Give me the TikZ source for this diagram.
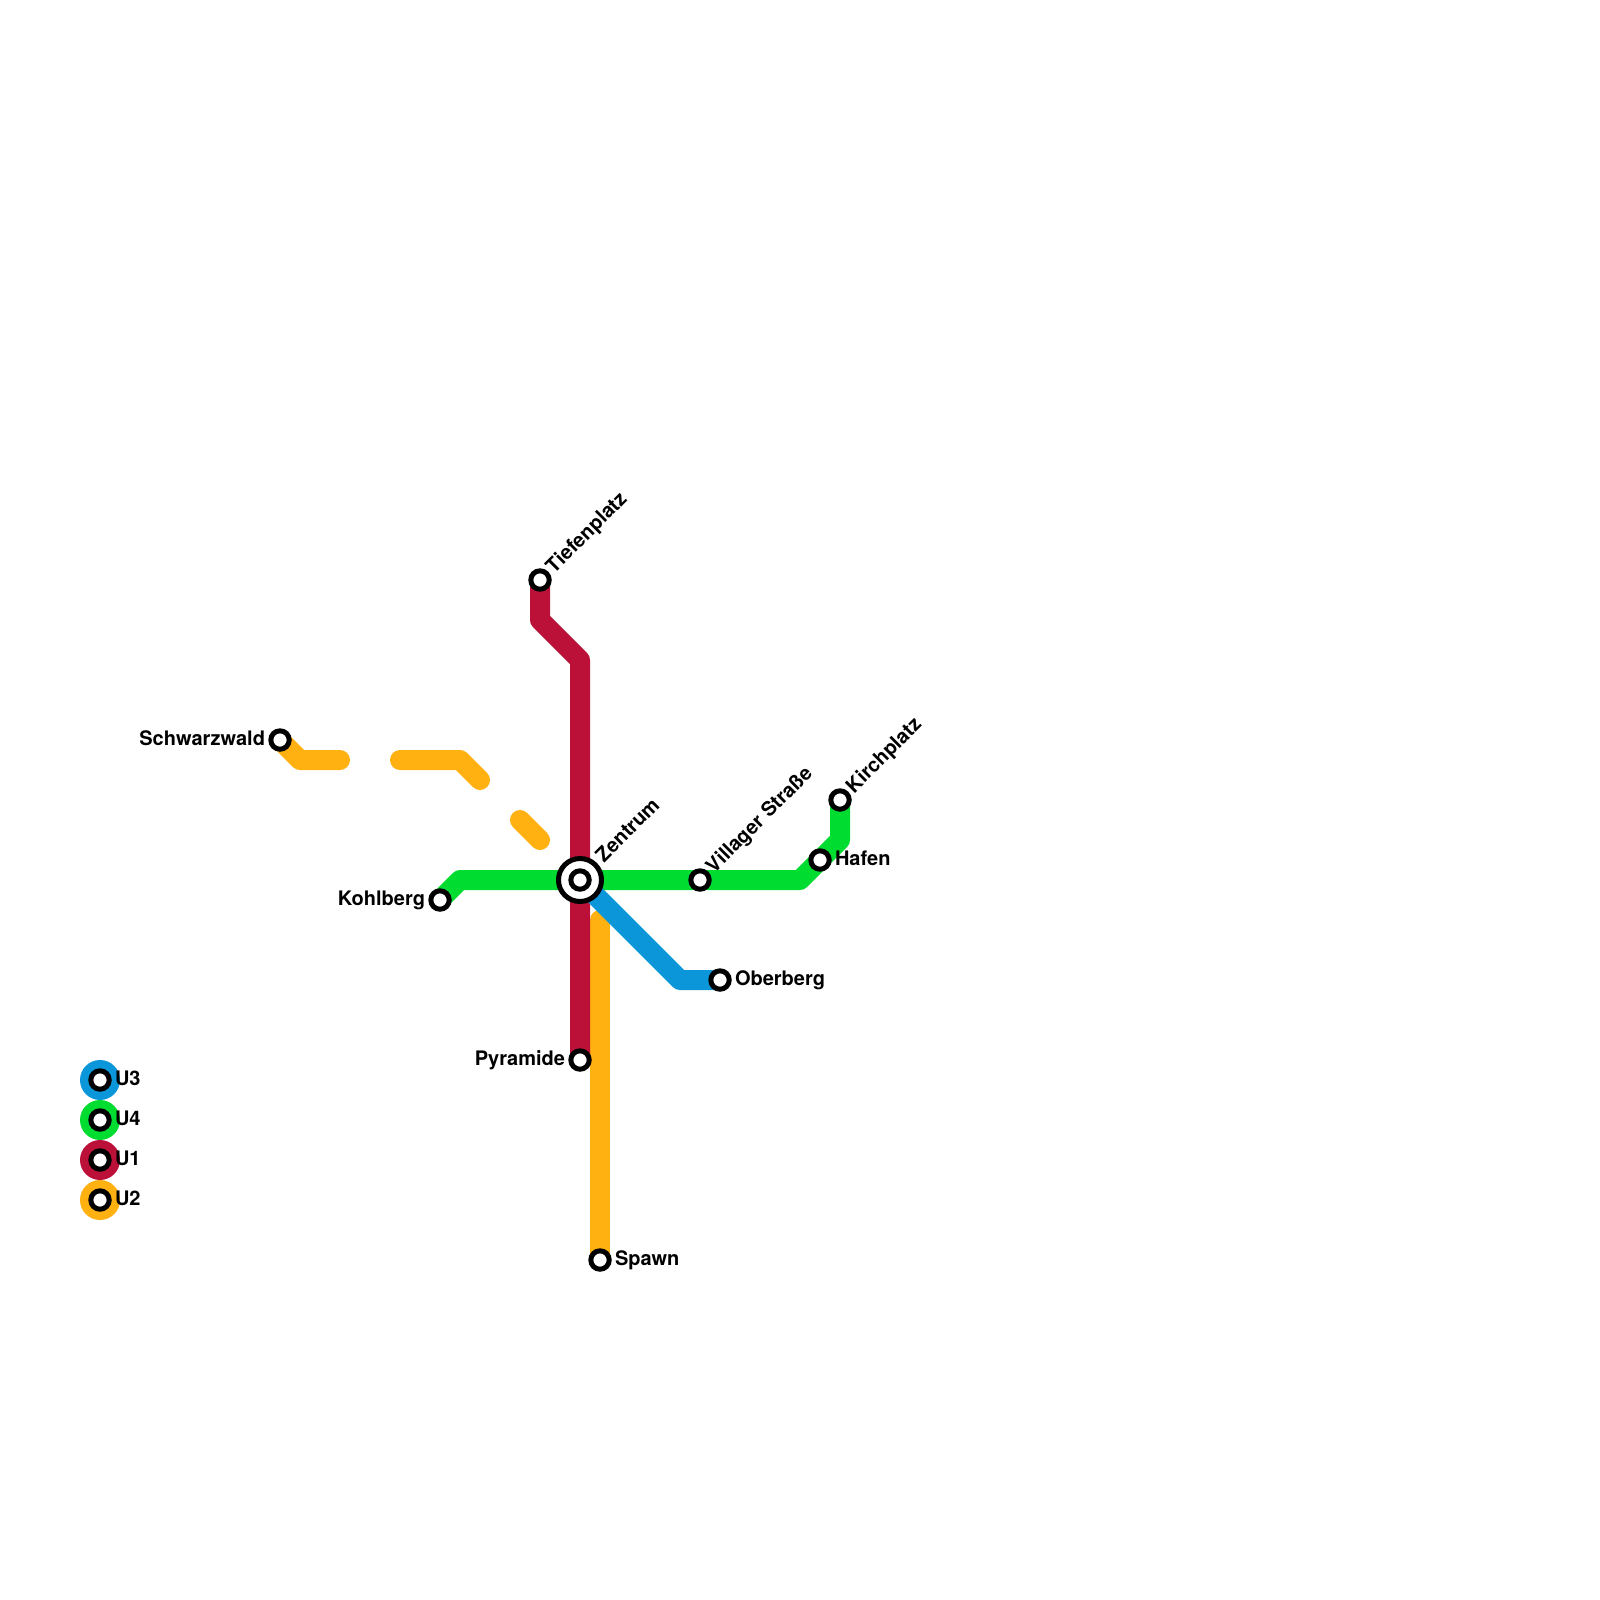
\documentclass[tikz,border=0pt]{standalone}
\usepackage{fontspec}
\setmainfont{TeX Gyre Heros}
\definecolor{cblue}{HTML}{0A96D8}
\definecolor{cgreen}{HTML}{00DD30}
\definecolor{cred}{HTML}{BB1139}
\definecolor{corange}{HTML}{FFB111}
\tikzset{
  metro/.style={line width=20pt,line join=round,line cap=round},
  stn/.style={circle,draw=black,fill=white,line width=5pt,minimum size=18.4pt,inner sep=0pt,outer sep=0pt},
  hubring/.style={circle,draw=black,fill=white,line width=5pt,minimum size=43pt,inner sep=0pt,outer sep=0pt},
  keydot/.style={circle,inner sep=0pt,outer sep=0pt,minimum size=40pt},
  lbl/.style={font=\bfseries\fontsize{20}{24}\selectfont,text=black,inner sep=0pt,outer sep=0pt,text height=14.5pt,text depth=0pt},
  lblR/.style={lbl,anchor=west},
  lblL/.style={lbl,anchor=east},
  lblD/.style={lbl,anchor=west,rotate=45}
}
\begin{document}
\begin{tikzpicture}[x=1pt,y=-1pt]
\useasboundingbox (0,0) rectangle (1600,1600);
\fill[white] (0,0) rectangle (1600,1600);
% stops
\coordinate (tief) at (540,580);
\coordinate (schw) at (280,740);
\coordinate (kohl) at (440,900);
\coordinate (zent) at (580,880);
\coordinate (vill) at (700,880);
\coordinate (hafe) at (820,860);
\coordinate (kirc) at (840,800);
\coordinate (ober) at (720,980);
\coordinate (pyra) at (580,1060);
\coordinate (spaw) at (600,1260);
% bends and line ends
\coordinate (r1) at (540,620); \coordinate (r2) at (580,660);
\coordinate (g1) at (460,880); \coordinate (g2) at (800,880); \coordinate (g3) at (840,840);
\coordinate (b1) at (680,980);
\coordinate (o1) at (300,760); \coordinate (o2) at (340,760);
\coordinate (o3) at (400,760); \coordinate (o4) at (460,760); \coordinate (o5) at (480,780);
\coordinate (o6) at (520,820); \coordinate (o7) at (540,840);
\coordinate (o8) at (600,920);
% lines
\draw[metro,corange] (schw) -- (o1) -- (o2);
\draw[metro,corange] (o3) -- (o4) -- (o5);
\draw[metro,corange] (o6) -- (o7);
\draw[metro,corange] (o8) -- (spaw);
\draw[metro,cred] (tief) -- (r1) -- (r2) -- (pyra);
\draw[metro,cgreen] (kohl) -- (g1) -- (g2) -- (hafe) -- (g3) -- (kirc);
\draw[metro,cblue] (zent) -- (b1) -- (ober);
% stations
\node[hubring] (zentring) at (zent) {};
\foreach \c/\n in {tief/Ntief,schw/Nschw,kohl/Nkohl,zent/Nzent,vill/Nvill,hafe/Nhafe,kirc/Nkirc,ober/Nober,pyra/Npyra,spaw/Nspaw}
  \node[stn] (\n) at (\c) {};
% labels
\node[lblD] (Ltief) at (549,569) {Tiefenplatz};
\node[lblL] (Lschw) at (265,738) {Schwarzwald};
\node[lblR] (Lober) at (735,978) {Oberberg};
\node[lblL] (Lkohl) at (425,898) {Kohlberg};
\node[lblD] (Lzent) at (599,858) {Zentrum};
\node[lblD] (Lvill) at (709,869) {Villager Straße};
\node[lblR] (Lhafe) at (835,858) {Hafen};
\node[lblD] (Lkirc) at (849,789) {Kirchplatz};
\node[lblL] (Lpyra) at (565,1058) {Pyramide};
\node[lblR] (Lspaw) at (615,1258) {Spawn};
% key
\foreach \y/\c/\t in {1080/cblue/U3,1120/cgreen/U4,1160/cred/U1,1200/corange/U2}{
  \node[keydot,fill=\c] (K\t) at (100,\y) {};
  \node[stn] (S\t) at (100,\y) {};
  \node[lblR] (L\t) at (115,\y-2) {\t};
}
\end{tikzpicture}
\end{document}
